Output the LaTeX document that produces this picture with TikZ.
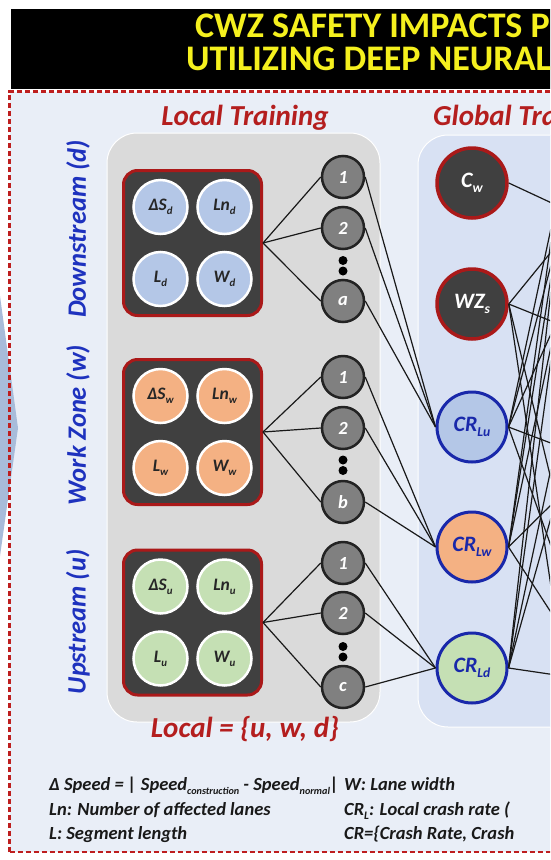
\documentclass[tikz,border=0pt]{standalone}
\usepackage{fontspec}
\setmainfont{Carlito}
\usepackage{graphicx}
\newcommand{\lsub}[1]{\raisebox{-0.22em}{\scalebox{0.62}{#1}}}
\newcommand{\ssub}[1]{\raisebox{-0.25em}{\scalebox{0.55}{#1}}}
\definecolor{titleyellow}{RGB}{245,240,30}
\definecolor{labred}{RGB}{180,30,30}
\definecolor{labblue}{RGB}{30,50,190}
\definecolor{framered}{RGB}{190,30,30}
\definecolor{bgblue}{RGB}{233,238,247}
\definecolor{panelgray}{RGB}{218,218,218}
\definecolor{panelblue}{RGB}{216,225,243}
\definecolor{boxgray}{RGB}{64,64,64}
\definecolor{boxred}{RGB}{170,25,25}
\definecolor{neurongray}{RGB}{128,128,128}
\definecolor{neuronborder}{RGB}{35,35,35}
\definecolor{inblue}{RGB}{180,199,231}
\definecolor{inorange}{RGB}{244,177,131}
\definecolor{ingreen}{RGB}{197,224,180}
\definecolor{crblue}{RGB}{25,40,170}
\definecolor{chev}{RGB}{168,188,218}
\begin{document}
\begin{tikzpicture}[x=1pt,y=-1pt,
  titlefont/.style={font=\fontsize{36}{40}\selectfont\bfseries, text=titleyellow, anchor=base west, inner sep=0},
  headred/.style={font=\fontsize{29}{33}\selectfont\bfseries\itshape, text=labred, inner sep=0},
  sidelab/.style={font=\fontsize{26.5}{30}\selectfont\bfseries\itshape, text=labblue, rotate=90, inner sep=0},
  groupbox/.style={draw=boxred, fill=boxgray, line width=3, rounded corners=14, minimum width=138, minimum height=145},
  inputc/.style={circle, draw=white, line width=2.5, minimum size=54, inner sep=0, font=\fontsize{17.5}{19}\selectfont\bfseries\itshape, text=black!85},
  neuron/.style={circle, draw=neuronborder, fill=neurongray, line width=2.5, minimum size=42, inner sep=0, text=white, font=\fontsize{18.5}{20}\selectfont\bfseries\itshape},
  gdark/.style={circle, draw=boxred, fill=boxgray, line width=3.5, minimum size=70, inner sep=0, text=white, font=\fontsize{22}{24}\selectfont\bfseries\itshape},
  gcr/.style={circle, draw=crblue, line width=3, minimum size=70, inner sep=0, text=crblue, font=\fontsize{22}{24}\selectfont\bfseries\itshape},
  wire/.style={draw=black!90, line width=1.2},
  blackdot/.style={circle, fill=black, minimum size=9, inner sep=0},
  legend/.style={font=\fontsize{18.5}{21}\selectfont\bfseries\itshape, text=black!90, anchor=base west, inner sep=0}
]
\useasboundingbox (0,0) rectangle (550,860);
\clip (0,0) rectangle (550,860);
\fill[white] (0,0) rectangle (550,860);
% title band
\fill[black] (10.5,9) rectangle (560,89);
\node[titlefont] (t1) at (195,37) {CWZ SAFETY IMPACTS P};
\node[titlefont] (t2) at (186,70) {UTILIZING DEEP NEURAL};
% frame background
\fill[bgblue] (9.5,91.5) rectangle (620,852);
% chevron
\fill[chev] (0,296) -- (18,428) -- (0,556) -- cycle;
\draw[framered, line width=2.6, dash pattern=on 5 off 3] (9.5,852) -- (9.5,91.5) -- (620,91.5);
\draw[framered, line width=2.6, dash pattern=on 5 off 3] (9.5,852) -- (620,852);
% panels
\draw[white, line width=1, fill=panelgray, rounded corners=30] (107,133) rectangle (380,722);
\draw[white, line width=1, fill=panelblue, rounded corners=30] (418,135) rectangle (640,727);
% headings
\node[headred, anchor=base] (lt) at (245,125) {Local Training};
\node[headred, anchor=base west] (gt) at (433,125) {Global Training};
\node[headred, anchor=base] (lset) at (245,737) {Local = \{u, w, d\}};
% side labels
\node[sidelab] (sd) at (78,229) {Downstream (d)};
\node[sidelab] (sw) at (78,425) {Work Zone (w)};
\node[sidelab] (su) at (78,622) {Upstream (u)};
% group boxes
\node[groupbox] (bd) at (192.5,243) {};
\node[groupbox] (bw) at (192.5,432) {};
\node[groupbox] (bu) at (192.5,622.5) {};
% inputs downstream
\node[inputc, fill=inblue] (dS) at (160.5,207) {ΔS\lsub{d}};
\node[inputc, fill=inblue] (dLn) at (224.5,207) {Ln\lsub{d}};
\node[inputc, fill=inblue] (dL) at (160.5,279) {L\lsub{d}};
\node[inputc, fill=inblue] (dW) at (224.5,279) {W\lsub{d}};
% inputs work zone
\node[inputc, fill=inorange] (wS) at (160.5,396) {ΔS\lsub{w}};
\node[inputc, fill=inorange] (wLn) at (224.5,396) {Ln\lsub{w}};
\node[inputc, fill=inorange] (wL) at (160.5,468) {L\lsub{w}};
\node[inputc, fill=inorange] (wW) at (224.5,468) {W\lsub{w}};
% inputs upstream
\node[inputc, fill=ingreen] (uS) at (160.5,586.5) {ΔS\lsub{u}};
\node[inputc, fill=ingreen] (uLn) at (224.5,586.5) {Ln\lsub{u}};
\node[inputc, fill=ingreen] (uL) at (160.5,658.5) {L\lsub{u}};
\node[inputc, fill=ingreen] (uW) at (224.5,658.5) {W\lsub{u}};
% local neurons
\node[neuron] (d1) at (343,177) {1};
\node[neuron] (d2) at (343,228) {2};
\node[neuron] (da) at (343,301) {a};
\node[blackdot] (dd1) at (343,260.5) {};
\node[blackdot] (dd2) at (343,271) {};
\node[neuron] (w1) at (343,377) {1};
\node[neuron] (w2) at (343,428) {2};
\node[neuron] (wb) at (343,502) {b};
\node[blackdot] (wd1) at (343,460) {};
\node[blackdot] (wd2) at (343,470.5) {};
\node[neuron] (u1) at (343,563) {1};
\node[neuron] (u2) at (343,613) {2};
\node[neuron] (uc) at (343,687) {c};
\node[blackdot] (ud1) at (343,646.5) {};
\node[blackdot] (ud2) at (343,657) {};
% global nodes
\node[gdark] (cw) at (472,183) {C\lsub{w}};
\node[gdark] (wz) at (472,304) {WZ\lsub{s}};
\node[gcr, fill=inblue] (crlu) at (472,427) {CR\lsub{Lu}};
\node[gcr, fill=inorange] (crlw) at (472,547) {CR\lsub{Lw}};
\node[gcr, fill=ingreen] (crld) at (472,668) {CR\lsub{Ld}};
% next layer (outside the visible area)
\coordinate (n1) at (556,205);
\coordinate (n2) at (556,246);
\coordinate (n3) at (556,323);
\coordinate (n4) at (556,445);
\coordinate (n5) at (556,500);
\coordinate (n6) at (556,560);
\coordinate (n7) at (556,620);
\coordinate (n8) at (556,675);
% wires box -> neurons
\foreach \b/\n in {bd/d1,bd/d2,bd/da,bw/w1,bw/w2,bw/wb,bu/u1,bu/u2,bu/uc}
  \draw[wire] (\b.east) -- (\n.west);
% wires neurons -> CR
\foreach \n/\c in {d1/crlu,d2/crlu,da/crlu,w1/crlw,w2/crlw,wb/crlw,u1/crld,u2/crld,uc/crld}
  \draw[wire] (\n.east) -- (\c.west);
% wires global -> next layer
\foreach \g/\t in {cw/n1,wz/n2,wz/n3,wz/n5,wz/n7,crlu/n1,crlu/n2,crlu/n3,crlu/n4,crlu/n6,crlw/n1,crlw/n2,crlw/n3,crlw/n5,crlw/n7,crld/n2,crld/n3,crld/n4,crld/n5,crld/n8}
  \draw[wire] (\g.east) -- (\t);
% legend
\node[legend] (l1) at (49,790) {Δ Speed = | Speed\ssub{construction} - Speed\ssub{normal}|};
\node[legend] (l2) at (49,815) {Ln: Number of affected lanes};
\node[legend] (l3) at (49,839) {L: Segment length};
\node[legend] (r1) at (344,790) {W: Lane width};
\node[legend] (r2) at (344,815) {CR\lsub{L}: Local crash rate (};
\node[legend] (r3) at (344,839) {CR=\{Crash Rate, Crash};
\end{tikzpicture}
\end{document}
